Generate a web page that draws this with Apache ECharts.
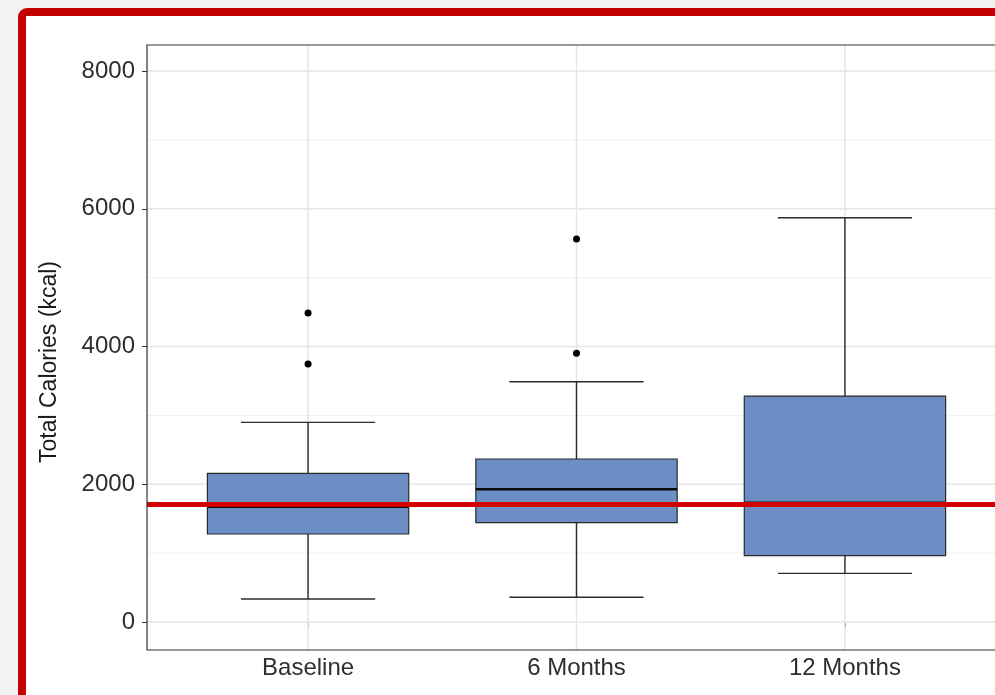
<!DOCTYPE html>
<html><head><meta charset="utf-8">
<script src="https://cdn.jsdelivr.net/npm/echarts@6/dist/echarts.min.js"></script>
<style>html,body{margin:0;padding:0;background:#f2f2f2;overflow:hidden}#c{width:995px;height:695px}</style>
</head><body><div id="c"></div>
<script>
// ---- data ----
const categories = ['Baseline', '6 Months', '12 Months'];
const whiskerLow = [334, 359, 707];
const q1 = [1278, 1442, 963];
const median = [1674, 1927, 1730];
const q3 = [2159, 2367, 3281];
const whiskerHigh = [2899, 3489, 5870];
const outlierCategory = [0, 0, 1, 1];
const outlierValue = [4487, 3746, 5561, 3901];
const referenceLine = 1713;
const yTicks = [0, 2000, 4000, 6000, 8000];
const yMinorTicks = [1000, 3000, 5000, 7000];
const yTitle = 'Total Calories (kcal)';

// ---- build ----
const catPos = categories.map((c, i) => i + 1);
const boxData = categories.map((c, i) => [catPos[i], whiskerLow[i], q1[i], median[i], q3[i], whiskerHigh[i]]);
const outlierData = outlierValue.map((v, i) => [catPos[outlierCategory[i]], v]);
const FONT = 'Liberation Sans, Arial, sans-serif';
const X_MIN = 0.4, X_MAX = 3.6, Y_MIN = -406, Y_MAX = 8378;

// grid lines: [orientation (0 = horizontal, 1 = vertical), value, major flag]
const gridLineData = []
  .concat(yMinorTicks.map(v => [0, v, 0]))
  .concat(yTicks.map(v => [0, v, 1]))
  .concat(catPos.map(v => [1, v, 1]));

function renderGridLine(params, api) {
  const orient = api.value(0);
  const v = api.value(1);
  const major = api.value(2);
  const style = { stroke: major ? '#e6e6e6' : '#efefef', lineWidth: major ? 1.5 : 1 };
  if (orient === 0) {
    const a = api.coord([X_MIN, v]);
    const b = api.coord([X_MAX, v]);
    return { type: 'line', shape: { x1: a[0], y1: a[1], x2: b[0], y2: b[1] }, style };
  }
  const a = api.coord([v, Y_MIN]);
  const b = api.coord([v, Y_MAX]);
  return { type: 'line', shape: { x1: a[0], y1: a[1], x2: b[0], y2: b[1] }, style };
}

function renderPanel(params, api) {
  const tl = api.coord([X_MIN, Y_MAX]);
  const bl = api.coord([X_MIN, Y_MIN]);
  const br = api.coord([X_MAX, Y_MIN]);
  const tr = api.coord([X_MAX, Y_MAX]);
  return { type: 'polygon', shape: { points: [tl, tr, br, bl] },
    style: { fill: 'none', stroke: '#333', lineWidth: 1.2 } };
}

function renderBox(params, api) {
  const x = api.value(0);
  const lo = api.coord([x, api.value(1)]);
  const b1 = api.coord([x, api.value(2)]);
  const md = api.coord([x, api.value(3)]);
  const b3 = api.coord([x, api.value(4)]);
  const hi = api.coord([x, api.value(5)]);
  const boxW = api.size([0.75, 0])[0];
  const capW = api.size([0.5, 0])[0];
  const cx = lo[0];
  const ls = { stroke: '#2b2b2b', lineWidth: 1.4 };
  return {
    type: 'group',
    children: [
      { type: 'line', shape: { x1: cx, y1: lo[1], x2: cx, y2: hi[1] }, style: ls },
      { type: 'line', shape: { x1: cx - capW / 2, y1: lo[1], x2: cx + capW / 2, y2: lo[1] }, style: ls },
      { type: 'line', shape: { x1: cx - capW / 2, y1: hi[1], x2: cx + capW / 2, y2: hi[1] }, style: ls },
      { type: 'rect', shape: { x: cx - boxW / 2, y: b3[1], width: boxW, height: b1[1] - b3[1] },
        style: { fill: '#6b8fc5', stroke: '#2b2b2b', lineWidth: 1.2 } },
      { type: 'line', shape: { x1: cx - boxW / 2, y1: md[1], x2: cx + boxW / 2, y2: md[1] },
        style: { stroke: '#0a0a0a', lineWidth: 2.6 } }
    ]
  };
}

const chart = echarts.init(document.getElementById('c'), null, { renderer: 'canvas' });
chart.setOption({
  animation: false,
  backgroundColor: '#f2f2f2',
  textStyle: { fontFamily: FONT },
  graphic: [
    { type: 'rect', z: -10, silent: true,
      shape: { x: 22, y: 12, width: 1100, height: 900, r: 5 },
      style: { fill: '#ffffff', stroke: '#c40000', lineWidth: 8 } },
    { type: 'text', x: 50, y: 362, rotation: Math.PI / 2, silent: true,
      style: { text: yTitle, font: '23px ' + FONT, fill: '#1a1a1a', align: 'center', verticalAlign: 'middle' } }
  ],
  grid: { left: 147, top: 45, width: 859, height: 605, show: false,
    outerBoundsMode: 'none', containLabel: false },
  xAxis: {
    type: 'value', min: X_MIN, max: X_MAX,
    axisLine: { show: false },
    axisTick: { show: true, customValues: catPos, length: 5, lineStyle: { color: '#333' } },
    axisLabel: { customValues: catPos, formatter: v => categories[Math.round(v) - 1] || '',
      fontSize: 24, color: '#2e2e2e', margin: 6, fontFamily: FONT },
    splitLine: { show: false }
  },
  yAxis: {
    type: 'value', min: Y_MIN, max: Y_MAX,
    axisLine: { show: false },
    axisTick: { show: true, customValues: yTicks, length: 5, lineStyle: { color: '#333' } },
    axisLabel: { customValues: yTicks, formatter: v => String(v), fontSize: 24, color: '#2e2e2e', margin: 12, fontFamily: FONT },
    splitLine: { show: false }
  },
  series: [
    { type: 'custom', name: 'gridlines', z: 1, silent: true, renderItem: renderGridLine, data: gridLineData,
      encode: { x: 1 }, clip: false },
    { type: 'custom', name: 'boxes', z: 2, renderItem: renderBox, data: boxData,
      encode: { x: 0, y: [1, 2, 3, 4, 5] } },
    { type: 'scatter', name: 'outliers', z: 3, data: outlierData, symbol: 'circle', symbolSize: 7,
      itemStyle: { color: '#000', opacity: 1 },
      markLine: { silent: true, symbol: 'none', label: { show: false }, animation: false, z: 5,
        data: [{ yAxis: referenceLine, lineStyle: { color: '#d10000', width: 5, type: 'solid', opacity: 1 } }] } },
    { type: 'custom', name: 'panel', z: 6, silent: true, renderItem: renderPanel, data: [[0]], clip: false }
  ]
});
</script>
</body></html>
